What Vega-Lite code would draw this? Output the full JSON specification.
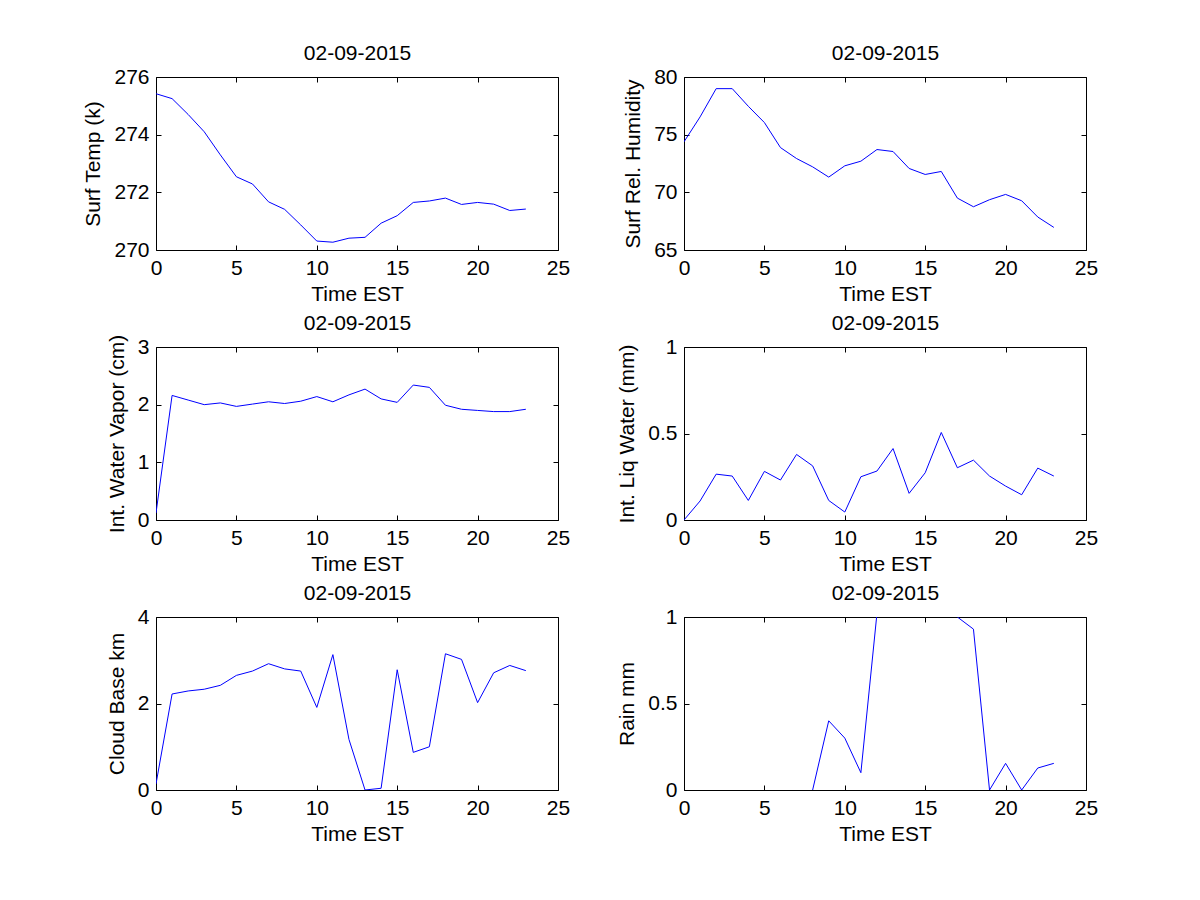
{
  "$schema": "https://vega.github.io/schema/vega-lite/v6.json",
  "autosize": {"type": "none"},
  "padding": {"left": 156, "top": 77, "right": 1044, "bottom": 823},
  "background": "white",
  "config": {
    "font": "Liberation Sans",
    "view": {"stroke": null},
    "axis": {
      "domainColor": "black", "domainWidth": 1, "tickColor": "black", "tickWidth": 1,
      "tickSize": -5, "labelPadding": 12, "labelFontSize": 21, "titleFontSize": 21,
      "titleFontWeight": "normal", "labelColor": "black", "titleColor": "black",
      "grid": false, "zindex": 1, "labelFlush": false, "labelOverlap": false, "format": "~g"
    },
    "axisLeft": {"titlePadding": 10},
    "axisBottom": {"titlePadding": 5},
    "axisTop": {"titlePadding": 13}
  },
  "datasets": {
    "d": [
      {"h": 0, "temp": 275.42, "rh": 74.38, "iwv": 0.12, "lwp": 0.0, "cb": 0.14, "rain": null},
      {"h": 1, "temp": 275.25, "rh": 76.54, "iwv": 2.16, "lwp": 0.11, "cb": 2.22, "rain": null},
      {"h": 2, "temp": 274.70, "rh": 78.99, "iwv": 2.08, "lwp": 0.265, "cb": 2.29, "rain": null},
      {"h": 3, "temp": 274.10, "rh": 78.99, "iwv": 2.00, "lwp": 0.254, "cb": 2.33, "rain": null},
      {"h": 4, "temp": 273.30, "rh": 77.46, "iwv": 2.03, "lwp": 0.113, "cb": 2.42, "rain": null},
      {"h": 5, "temp": 272.54, "rh": 76.05, "iwv": 1.97, "lwp": 0.281, "cb": 2.65, "rain": null},
      {"h": 6, "temp": 272.29, "rh": 73.88, "iwv": 2.01, "lwp": 0.231, "cb": 2.75, "rain": null},
      {"h": 7, "temp": 271.67, "rh": 72.93, "iwv": 2.05, "lwp": 0.379, "cb": 2.92, "rain": null},
      {"h": 8, "temp": 271.41, "rh": 72.21, "iwv": 2.02, "lwp": 0.313, "cb": 2.80, "rain": 0},
      {"h": 9, "temp": 270.87, "rh": 71.32, "iwv": 2.06, "lwp": 0.113, "cb": 2.75, "rain": 0.40},
      {"h": 10, "temp": 270.31, "rh": 72.30, "iwv": 2.14, "lwp": 0.046, "cb": 1.91, "rain": 0.30},
      {"h": 11, "temp": 270.27, "rh": 72.70, "iwv": 2.05, "lwp": 0.25, "cb": 3.13, "rain": 0.10},
      {"h": 12, "temp": 270.41, "rh": 73.71, "iwv": 2.17, "lwp": 0.283, "cb": 1.17, "rain": 1.02},
      {"h": 13, "temp": 270.44, "rh": 73.54, "iwv": 2.27, "lwp": 0.413, "cb": 0.0, "rain": 1.6},
      {"h": 14, "temp": 270.93, "rh": 72.07, "iwv": 2.10, "lwp": 0.154, "cb": 0.04, "rain": 2.0},
      {"h": 15, "temp": 271.19, "rh": 71.55, "iwv": 2.04, "lwp": 0.273, "cb": 2.78, "rain": 1.8},
      {"h": 16, "temp": 271.65, "rh": 71.81, "iwv": 2.34, "lwp": 0.506, "cb": 0.87, "rain": 1.4},
      {"h": 17, "temp": 271.70, "rh": 69.50, "iwv": 2.30, "lwp": 0.302, "cb": 1.0, "rain": 1.0},
      {"h": 18, "temp": 271.80, "rh": 68.75, "iwv": 1.99, "lwp": 0.346, "cb": 3.15, "rain": 0.93},
      {"h": 19, "temp": 271.58, "rh": 69.36, "iwv": 1.92, "lwp": 0.254, "cb": 3.02, "rain": 0},
      {"h": 20, "temp": 271.65, "rh": 69.82, "iwv": 1.90, "lwp": 0.196, "cb": 2.02, "rain": 0.154},
      {"h": 21, "temp": 271.59, "rh": 69.27, "iwv": 1.88, "lwp": 0.146, "cb": 2.71, "rain": 0},
      {"h": 22, "temp": 271.37, "rh": 67.86, "iwv": 1.88, "lwp": 0.30, "cb": 2.88, "rain": 0.127},
      {"h": 23, "temp": 271.42, "rh": 66.96, "iwv": 1.92, "lwp": 0.254, "cb": 2.76, "rain": 0.154}
    ]
  },
  "columns": 2,
  "spacing": {"row": 97, "column": 126},
  "bounds": "flush",
  "concat": [
    {
      "width": 402, "height": 173, "data": {"name": "d"},
      "layer": [
        {"mark": {"type": "line", "color": "#0000ff", "strokeWidth": 1, "clip": true},
         "encoding": {
           "x": {"field": "h", "type": "quantitative", "scale": {"domain": [0, 25], "nice": false}, "axis": {"values": [0, 5, 10, 15, 20, 25], "title": "Time EST"}},
           "y": {"field": "temp", "type": "quantitative", "scale": {"domain": [270, 276], "nice": false, "zero": false}, "axis": {"values": [270, 272, 274, 276], "title": "Surf Temp (k)"}}
         }},
        {"mark": {"type": "line", "opacity": 0},
         "encoding": {
           "x": {"field": "h", "type": "quantitative", "scale": {"domain": [0, 25], "nice": false}, "axis": {"orient": "top", "values": [0, 5, 10, 15, 20, 25], "labels": false, "title": "02-09-2015"}},
           "y": {"field": "temp", "type": "quantitative", "scale": {"domain": [270, 276], "nice": false, "zero": false}, "axis": {"orient": "right", "values": [270, 272, 274, 276], "labels": false, "title": null}}
         }}
      ],
      "resolve": {"axis": {"x": "independent", "y": "independent"}}
    },
    {
      "width": 402, "height": 173, "data": {"name": "d"},
      "layer": [
        {"mark": {"type": "line", "color": "#0000ff", "strokeWidth": 1, "clip": true},
         "encoding": {
           "x": {"field": "h", "type": "quantitative", "scale": {"domain": [0, 25], "nice": false}, "axis": {"values": [0, 5, 10, 15, 20, 25], "title": "Time EST"}},
           "y": {"field": "rh", "type": "quantitative", "scale": {"domain": [65, 80], "nice": false, "zero": false}, "axis": {"values": [65, 70, 75, 80], "title": "Surf Rel. Humidity"}}
         }},
        {"mark": {"type": "line", "opacity": 0},
         "encoding": {
           "x": {"field": "h", "type": "quantitative", "scale": {"domain": [0, 25], "nice": false}, "axis": {"orient": "top", "values": [0, 5, 10, 15, 20, 25], "labels": false, "title": "02-09-2015"}},
           "y": {"field": "rh", "type": "quantitative", "scale": {"domain": [65, 80], "nice": false, "zero": false}, "axis": {"orient": "right", "values": [65, 70, 75, 80], "labels": false, "title": null}}
         }}
      ],
      "resolve": {"axis": {"x": "independent", "y": "independent"}}
    },
    {
      "width": 402, "height": 173, "data": {"name": "d"},
      "layer": [
        {"mark": {"type": "line", "color": "#0000ff", "strokeWidth": 1, "clip": true},
         "encoding": {
           "x": {"field": "h", "type": "quantitative", "scale": {"domain": [0, 25], "nice": false}, "axis": {"values": [0, 5, 10, 15, 20, 25], "title": "Time EST"}},
           "y": {"field": "iwv", "type": "quantitative", "scale": {"domain": [0, 3], "nice": false}, "axis": {"values": [0, 1, 2, 3], "title": "Int. Water Vapor (cm)"}}
         }},
        {"mark": {"type": "line", "opacity": 0},
         "encoding": {
           "x": {"field": "h", "type": "quantitative", "scale": {"domain": [0, 25], "nice": false}, "axis": {"orient": "top", "values": [0, 5, 10, 15, 20, 25], "labels": false, "title": "02-09-2015"}},
           "y": {"field": "iwv", "type": "quantitative", "scale": {"domain": [0, 3], "nice": false}, "axis": {"orient": "right", "values": [0, 1, 2, 3], "labels": false, "title": null}}
         }}
      ],
      "resolve": {"axis": {"x": "independent", "y": "independent"}}
    },
    {
      "width": 402, "height": 173, "data": {"name": "d"},
      "layer": [
        {"mark": {"type": "line", "color": "#0000ff", "strokeWidth": 1, "clip": true},
         "encoding": {
           "x": {"field": "h", "type": "quantitative", "scale": {"domain": [0, 25], "nice": false}, "axis": {"values": [0, 5, 10, 15, 20, 25], "title": "Time EST"}},
           "y": {"field": "lwp", "type": "quantitative", "scale": {"domain": [0, 1], "nice": false}, "axis": {"values": [0, 0.5, 1], "title": "Int. Liq Water (mm)"}}
         }},
        {"mark": {"type": "line", "opacity": 0},
         "encoding": {
           "x": {"field": "h", "type": "quantitative", "scale": {"domain": [0, 25], "nice": false}, "axis": {"orient": "top", "values": [0, 5, 10, 15, 20, 25], "labels": false, "title": "02-09-2015"}},
           "y": {"field": "lwp", "type": "quantitative", "scale": {"domain": [0, 1], "nice": false}, "axis": {"orient": "right", "values": [0, 0.5, 1], "labels": false, "title": null}}
         }}
      ],
      "resolve": {"axis": {"x": "independent", "y": "independent"}}
    },
    {
      "width": 402, "height": 173, "data": {"name": "d"},
      "layer": [
        {"mark": {"type": "line", "color": "#0000ff", "strokeWidth": 1, "clip": true},
         "encoding": {
           "x": {"field": "h", "type": "quantitative", "scale": {"domain": [0, 25], "nice": false}, "axis": {"values": [0, 5, 10, 15, 20, 25], "title": "Time EST"}},
           "y": {"field": "cb", "type": "quantitative", "scale": {"domain": [0, 4], "nice": false}, "axis": {"values": [0, 2, 4], "title": "Cloud Base km"}}
         }},
        {"mark": {"type": "line", "opacity": 0},
         "encoding": {
           "x": {"field": "h", "type": "quantitative", "scale": {"domain": [0, 25], "nice": false}, "axis": {"orient": "top", "values": [0, 5, 10, 15, 20, 25], "labels": false, "title": "02-09-2015"}},
           "y": {"field": "cb", "type": "quantitative", "scale": {"domain": [0, 4], "nice": false}, "axis": {"orient": "right", "values": [0, 2, 4], "labels": false, "title": null}}
         }}
      ],
      "resolve": {"axis": {"x": "independent", "y": "independent"}}
    },
    {
      "width": 402, "height": 173, "data": {"name": "d"},
      "layer": [
        {"mark": {"type": "line", "color": "#0000ff", "strokeWidth": 1, "clip": true},
         "encoding": {
           "x": {"field": "h", "type": "quantitative", "scale": {"domain": [0, 25], "nice": false}, "axis": {"values": [0, 5, 10, 15, 20, 25], "title": "Time EST"}},
           "y": {"field": "rain", "type": "quantitative", "scale": {"domain": [0, 1], "nice": false}, "axis": {"values": [0, 0.5, 1], "title": "Rain mm"}}
         }},
        {"mark": {"type": "line", "opacity": 0},
         "encoding": {
           "x": {"field": "h", "type": "quantitative", "scale": {"domain": [0, 25], "nice": false}, "axis": {"orient": "top", "values": [0, 5, 10, 15, 20, 25], "labels": false, "title": "02-09-2015"}},
           "y": {"field": "rain", "type": "quantitative", "scale": {"domain": [0, 1], "nice": false}, "axis": {"orient": "right", "values": [0, 0.5, 1], "labels": false, "title": null}}
         }}
      ],
      "resolve": {"axis": {"x": "independent", "y": "independent"}}
    }
  ]
}
